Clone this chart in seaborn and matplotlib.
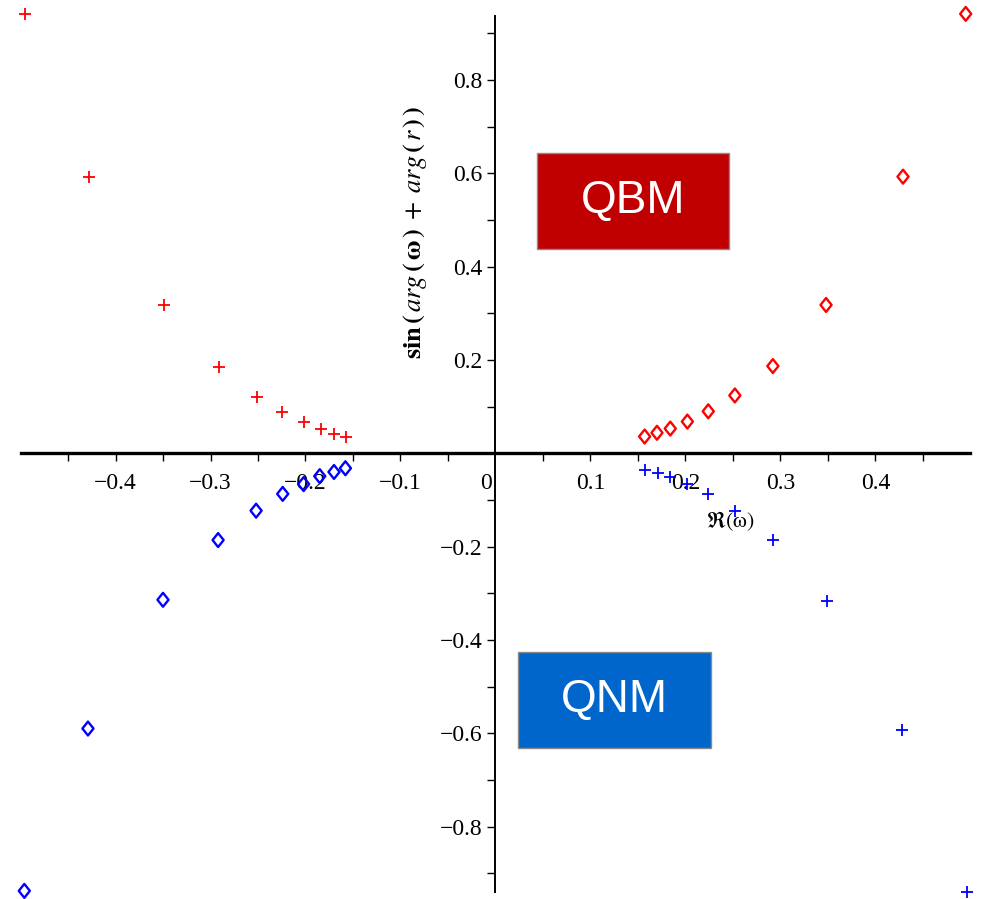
import numpy as np
import pandas as pd
import matplotlib
matplotlib.use("Agg")
import matplotlib.pyplot as plt
from matplotlib.patches import Rectangle
from matplotlib.markers import MarkerStyle
from matplotlib.path import Path
import seaborn as sns

# Re(omega) and sin(arg(omega) + arg(r)) for the four branches
qbm_neg_x = [-0.495, -0.428, -0.349, -0.291, -0.251, -0.225, -0.202, -0.184, -0.170, -0.157]
qbm_neg_y = [0.942, 0.592, 0.318, 0.186, 0.121, 0.089, 0.067, 0.052, 0.041, 0.035]

qbm_pos_x = [0.157, 0.170, 0.184, 0.202, 0.224, 0.252, 0.292, 0.348, 0.429, 0.495]
qbm_pos_y = [0.036, 0.044, 0.053, 0.068, 0.090, 0.124, 0.187, 0.318, 0.593, 0.942]

qnm_pos_x = [0.157, 0.171, 0.184, 0.202, 0.224, 0.252, 0.292, 0.349, 0.428, 0.496]
qnm_pos_y = [-0.036, -0.042, -0.050, -0.066, -0.088, -0.123, -0.186, -0.317, -0.593, -0.940]

qnm_neg_x = [-0.158, -0.170, -0.185, -0.202, -0.224, -0.252, -0.292, -0.350, -0.429, -0.496]
qnm_neg_y = [-0.032, -0.040, -0.049, -0.066, -0.087, -0.123, -0.186, -0.314, -0.590, -0.938]

x_major = [-0.4, -0.3, -0.2, -0.1, 0.1, 0.2, 0.3, 0.4]
x_minor = [-0.45, -0.35, -0.25, -0.15, -0.05, 0.05, 0.15, 0.25, 0.35, 0.45]
y_major = [-0.8, -0.6, -0.4, -0.2, 0.2, 0.4, 0.6, 0.8]
y_minor = [-0.9, -0.7, -0.5, -0.3, -0.1, 0.1, 0.3, 0.5, 0.7, 0.9]

RED = "#ff0000"
BLUE = "#0000ff"

sns.set_style("white")
plt.rcParams["font.family"] = ["Liberation Serif", "DejaVu Serif"]
plt.rcParams["mathtext.fontset"] = "stix"
plt.rcParams["text.color"] = "black"

fig = plt.figure(figsize=(9.81, 8.99), dpi=100)
ax = fig.add_axes([0, 0, 1, 1])
ax.set_facecolor("white")
ax.patch.set_alpha(0)

diamond = MarkerStyle(Path([(0, 1), (0.8, 0), (0, -1), (-0.8, 0), (0, 1)],
                           [Path.MOVETO, Path.LINETO, Path.LINETO, Path.LINETO, Path.CLOSEPOLY]))

def plus_series(x, y, color):
    sns.scatterplot(x=x, y=y, marker="+", s=80, color=color, linewidth=1.3,
                    ax=ax, clip_on=False, zorder=3)

def diamond_series(x, y, color):
    sns.scatterplot(x=x, y=y, marker=diamond, s=100, color=color, edgecolor=color,
                    facecolor="none", linewidth=1.7, ax=ax, clip_on=False, zorder=3)

plus_series(qbm_neg_x, qbm_neg_y, RED)
diamond_series(qbm_pos_x, qbm_pos_y, RED)
plus_series(qnm_pos_x, qnm_pos_y, BLUE)
diamond_series(qnm_neg_x, qnm_neg_y, BLUE)

ax.set_xlim(-0.5216, 0.5111)
ax.set_ylim(-0.9554, 0.9717)

for side in ("top", "right"):
    ax.spines[side].set_visible(False)
ax.spines["left"].set_position(("data", 0))
ax.spines["bottom"].set_position(("data", 0))
ax.spines["bottom"].set_bounds(-0.499, 0.499)
ax.spines["left"].set_bounds(-0.940, 0.938)
ax.spines["bottom"].set_linewidth(2.4)
ax.spines["left"].set_linewidth(1.4)
ax.spines["bottom"].set_color("black")
ax.spines["left"].set_color("black")

ax.set_xticks(x_major)
ax.set_xticks(x_minor, minor=True)
ax.set_yticks(y_major)
ax.set_yticks(y_minor, minor=True)
ax.set_xticklabels([f"{v:g}".replace("-", "\u2212") for v in x_major])
ax.set_yticklabels([f"{v:g}".replace("-", "\u2212") for v in y_major])
ax.tick_params(which="both", direction="out", length=5.5, width=1.0, color="black",
               bottom=True, left=True, top=False, right=False, labelcolor="black")
ax.tick_params(axis="x", which="major", labelsize=17, pad=8.5)
ax.tick_params(axis="y", which="major", labelsize=17, pad=4)
ax.set_xlabel("")
ax.set_ylabel("")

# origin label sits left of the vertical axis
ax.annotate("0", xy=(0, 0), xytext=(-6.5, -21.5), textcoords="offset points",
            ha="center", va="center", fontsize=17, color="black")

# axis titles
ax.annotate(r"$\Re(\mathrm{\omega})$", xy=(0.2476, 0), xytext=(0, -49), textcoords="offset points",
            ha="center", va="center", fontsize=16, color="black")
fig.text(415 / 981, 1 - 232 / 899,
         r"$\mathbf{sin}\,\mathbf{(}\,\mathit{arg}\,\mathbf{(}\,\mathbf{\omega}\,\mathbf{)}\;+\;\mathit{arg}\,\mathbf{(}\,r\,\mathbf{)}\,\mathbf{)}$",
         rotation=90, ha="center", va="center", fontsize=19, color="black")

# region tags
def tag(x0, x1, ytop, ybot, face, label):
    W, H = 981.0, 899.0
    rect = Rectangle((x0 / W, 1 - ybot / H), (x1 - x0) / W, (ybot - ytop) / H,
                     transform=fig.transFigure, facecolor=face, edgecolor="#8a8a8a",
                     linewidth=1.0, zorder=5)
    fig.add_artist(rect)
    fig.text((x0 + x1) / 2 / W, 1 - (ytop + ybot) / 2 / H, label, color="white",
             ha="center", va="center", fontsize=33, family=["Liberation Sans", "DejaVu Sans"],
             zorder=6)

tag(537.3, 729.3, 153.3, 249.0, "#c00000", "QBM")
tag(518.3, 710.7, 652.3, 748.3, "#0066cc", "QNM")

fig.savefig("out.png", dpi=100, facecolor="white")
